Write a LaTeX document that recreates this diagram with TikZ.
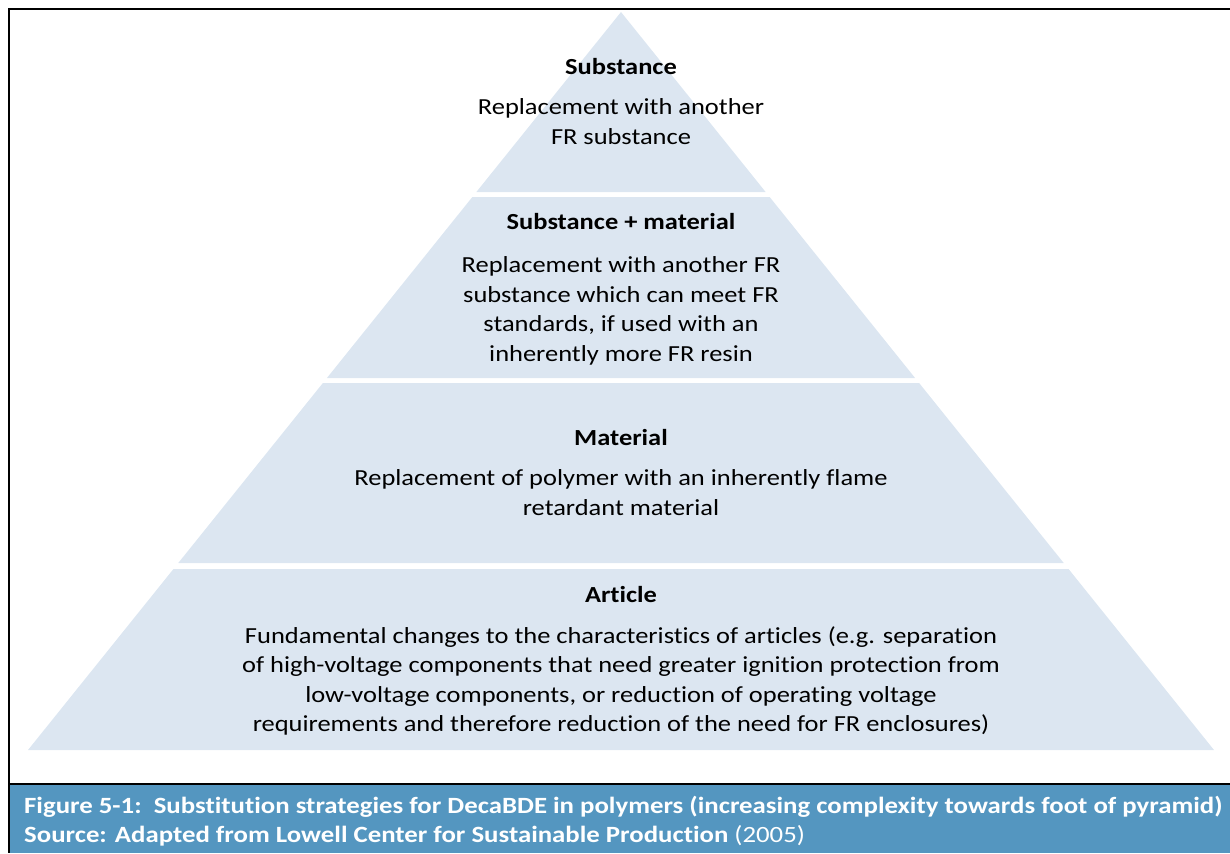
\documentclass[tikz,border=0pt]{standalone}
\usepackage{fontspec}
\setmainfont{Carlito}[FakeStretch=1.15,Ligatures=NoCommon]
\usetikzlibrary{positioning}

\definecolor{layerfill}{RGB}{220,230,241}
\definecolor{captionblue}{RGB}{84,150,192}

\begin{document}
\begin{tikzpicture}[x=1pt,y=-1pt,node distance=23pt,
  layer/.style={fill=layerfill,draw=none},
  title/.style={font=\fontsize{23}{29.5}\selectfont\bfseries,inner sep=0pt},
  desc/.style={font=\fontsize{23}{29.5}\selectfont,align=center,inner sep=0pt}]
  \useasboundingbox (0,0) rectangle (1230,853);

  % pyramid layers, sides run from the apex (621,12) to the base (28/1214,750)
  \foreach \top/\bot in {12/192,197/378,383/563,569/750}
    \fill[layer] ({621-0.8035*(\top-12)},\top) -- ({621+0.8035*(\top-12)},\top)
      -- ({621+0.8035*(\bot-12)},\bot) -- ({621-0.8035*(\bot-12)},\bot) -- cycle;

  % caption bar and frame
  \fill[captionblue] (9,784) rectangle (1230,853);
  \draw[line width=2.5pt] (1230,9) -- (9,9) -- (9,853);
  \draw[line width=2.5pt] (9,784) -- (1230,784);

  \node[title] (t1) at (621,67)  {Substance};
  \node[desc]  (d1) [below=of t1] {Replacement with another\\FR substance};

  \node[title] (t2) at (621,222) {Substance + material};
  \node[desc]  (d2) [below=26pt of t2] {Replacement with another FR\\substance which can meet FR\\standards, if used with an\\inherently more FR resin};

  \node[title] (t3) at (621,438) {Material};
  \node[desc]  (d3) [below=of t3] {Replacement of polymer with an inherently flame\\retardant material};

  \node[title] (t4) at (621,595) {Article};
  \node[desc]  (d4) [below=of t4] {Fundamental changes to the characteristics of articles (e.g. separation\\of high-voltage components that need greater ignition protection from\\low-voltage components, or reduction of operating voltage\\requirements and therefore reduction of the need for FR enclosures)};

  \node[anchor=base west,align=left,inner sep=0pt,text=white,
        font=\fontsize{23.3}{29}\selectfont] (cap) at (24,842)
    {\textbf{Figure 5-1:\ \ Substitution strategies for DecaBDE in polymers (increasing complexity towards foot of pyramid)}\\
     \textbf{Source: Adapted from Lowell Center for Sustainable Production} (2005)};
\end{tikzpicture}
\end{document}
